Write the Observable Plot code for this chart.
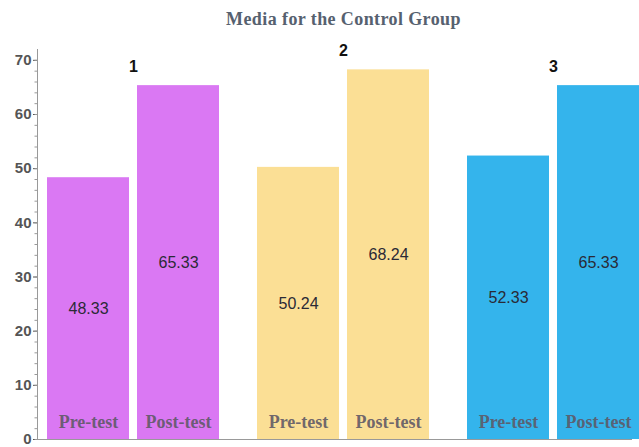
<!DOCTYPE html>
<html>
<head>
<meta charset="utf-8">
<script src="https://cdn.jsdelivr.net/npm/d3@7"></script>
<script src="https://cdn.jsdelivr.net/npm/@observablehq/plot@0.6"></script>
<style>
  html, body { margin: 0; padding: 0; background: #fff; overflow: hidden; }
  #wrap { width: 651px; }
  #title { height: 36px; box-sizing: border-box; padding-top: 9px; padding-left: 36px; text-align: center; line-height: 21px;
           font-family: "Liberation Serif", "DejaVu Serif", serif; font-weight: bold; font-size: 18px; letter-spacing: 0.4px; color: #56616f; }
  svg { display: block; overflow: visible; }
</style>
</head>
<body>
<div id="wrap">
  <div id="title">Media for the Control Group</div>
  <div id="chart"></div>
</div>
<script>
const groups = ["1", "2", "3"];
const tests = ["Pre-test", "Post-test"];
const preValues = [48.33, 50.24, 52.33];
const postValues = [65.33, 68.24, 65.33];
const groupColors = ["#da78f3", "#fbdf95", "#34b4ec"];
const yTicks = [0, 10, 20, 30, 40, 50, 60, 70];

const rows = [];
groups.forEach((g, i) => {
  rows.push({group: g, test: tests[0], value: preValues[i]});
  rows.push({group: g, test: tests[1], value: postValues[i]});
});
const tops = groups.map((g, i) => ({group: g, top: Math.max(preValues[i], postValues[i])}));

const minorTicks = d3.range(0, 72, 2);

const chart = Plot.plot({
  width: 651,
  height: 411,
  marginLeft: 36,
  marginRight: 0,
  marginTop: 13,
  marginBottom: 8,
  style: {fontFamily: "Liberation Sans, Arial, sans-serif", background: "white"},
  fx: {domain: groups, paddingInner: 0.1706, paddingOuter: 0.0427, axis: null, label: null},
  x: {domain: tests, paddingInner: 0.0874, paddingOuter: 0, axis: null, label: null},
  y: {domain: [0, 72], axis: null},
  color: {domain: groups, range: groupColors},
  marks: [
    Plot.barY(rows, {fx: "group", x: "test", y: "value", fill: "group"}),
    Plot.text(rows, {fx: "group", x: "test", y: d => d.value / 2, text: d => d.value.toFixed(2),
      fontSize: 16, letterSpacing: 0.9, fill: "#2a2a36"}),
    Plot.text(rows, {fx: "group", x: "test", y: () => 0, dy: -17, text: "test",
      fontFamily: "Liberation Serif, Times New Roman, serif", fontSize: 18, fontWeight: "bold", letterSpacing: 0.5, fill: "#5e5866", fillOpacity: 0.9}),
    Plot.text(tops, {fx: "group", y: "top", dy: -19, text: "group", fontSize: 16, fontWeight: "bold", fill: "#111"}),
    Plot.frame({anchor: "bottom", facet: "super", dx: -9, stroke: "#999"}),
    Plot.frame({anchor: "left", facet: "super", dx: -9, stroke: "#999"}),
    Plot.axisY({ticks: yTicks, tickSize: 4, tickPadding: 2, dx: -9, fontSize: 15, fontWeight: "bold", letterSpacing: 1.2, color: "#555", label: null}),
    Plot.axisY({ticks: minorTicks, tickSize: 2.5, dx: -9, text: null, label: null, stroke: "#999"})
  ]
});
document.getElementById("chart").appendChild(chart);
</script>
</body>
</html>
